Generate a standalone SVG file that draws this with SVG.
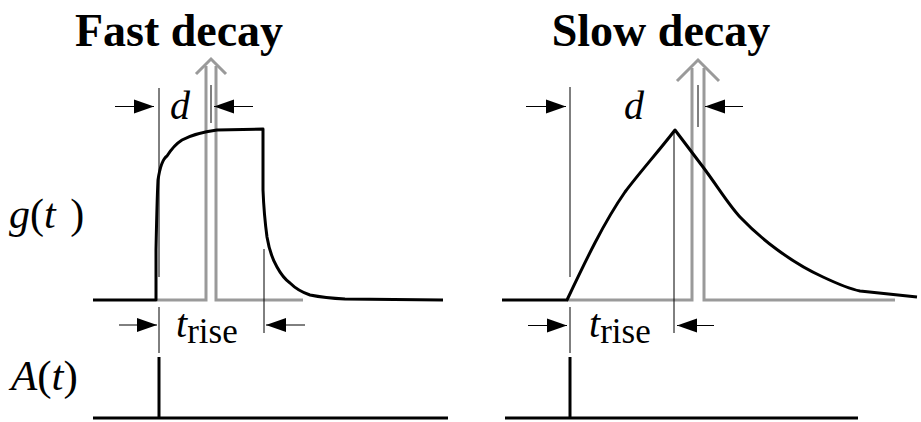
<svg xmlns="http://www.w3.org/2000/svg" width="921" height="422" viewBox="0 0 921 422">
<style>
.thick{fill:none;stroke:#000;stroke-width:3;stroke-linejoin:round}
.thin{fill:none;stroke:#000;stroke-width:1}
.gray{fill:none;stroke:#9a9a9a;stroke-width:3;stroke-linejoin:miter}
.dim{fill:none;stroke:#000;stroke-width:1}
</style>
<defs>
<marker id="ah" markerWidth="20" markerHeight="16" refX="20" refY="8" orient="auto" markerUnits="userSpaceOnUse">
<path d="M0,1 L20,8 L0,15 Z" fill="#000"/>
</marker>
</defs>
<rect width="921" height="422" fill="#fff"/>

<g id="fast-panel">
<text x="179" y="46" text-anchor="middle" font-family="Liberation Serif" font-weight="bold" font-size="46">Fast decay</text>
<g id="fast-gray-arrow">
<path class="gray" d="M157,300 H206 V66 M216,66 V300 H303"/>
<path class="gray" d="M196,74 L211,59 L226,74"/>
</g>
<g id="fast-curve">
<path class="thick" d="M93,300 H156 L156,250 Q157,200 158,180 Q161,160 167,156 Q174,145 182,140 Q195,133 217,130 L263,129 L263,190 Q264,215 267,237 Q270,255 277,267 Q283,278 290,283 Q298,291 310,295 Q325,298 345,299 L443,300"/>
</g>
<g id="fast-markers">
<line class="thin" x1="159" y1="88" x2="159" y2="277"/>
<line class="thin" x1="211" y1="85" x2="211" y2="123"/>
<line class="thin" x1="264" y1="249" x2="264" y2="333"/>
<line class="thin" x1="159" y1="307" x2="159" y2="353"/>
</g>
<g id="fast-d">
<line class="dim" x1="115" y1="106.5" x2="154" y2="106.5" marker-end="url(#ah)"/>
<line class="dim" x1="253" y1="106.5" x2="214" y2="106.5" marker-end="url(#ah)"/>
<text x="170" y="119" font-family="Liberation Serif" font-style="italic" font-size="40">d</text>
</g>
<g id="fast-trise">
<line class="dim" x1="119" y1="325" x2="157" y2="325" marker-end="url(#ah)"/>
<line class="dim" x1="305" y1="325" x2="266" y2="325" marker-end="url(#ah)"/>
<text x="176" y="337" font-family="Liberation Serif" font-size="40"><tspan font-style="italic">t</tspan><tspan font-size="35" dy="6">rise</tspan></text>
</g>
<g id="fast-impulse">
<line class="thick" x1="159" y1="357" x2="159" y2="418"/>
<line class="thick" x1="93" y1="418" x2="448" y2="418"/>
</g>
</g>

<g id="slow-panel">
<text x="661" y="46" text-anchor="middle" font-family="Liberation Serif" font-weight="bold" font-size="46">Slow decay</text>
<g id="slow-gray-arrow">
<path class="gray" d="M567,300 H692 V68 M704,68 V300 H895"/>
<path class="gray" d="M677,81 L698,60 L719,81"/>
</g>
<g id="slow-curve">
<path class="thick" d="M502,300 H567 C585,262 604,222 625,192 C640,172 658,152 675,130 L703,167 C718,187 728,204 740,217 C760,238 790,262 823,277 C840,285 850,289 860,291 L917,297"/>
</g>
<g id="slow-markers">
<line class="thin" x1="570" y1="87" x2="570" y2="277"/>
<line class="thin" x1="698" y1="85" x2="698" y2="127"/>
<line class="thin" x1="674" y1="130" x2="674" y2="333"/>
<line class="thin" x1="570" y1="307" x2="570" y2="353"/>
</g>
<g id="slow-d">
<line class="dim" x1="526" y1="106.5" x2="566" y2="106.5" marker-end="url(#ah)"/>
<line class="dim" x1="743" y1="106.5" x2="705" y2="106.5" marker-end="url(#ah)"/>
<text x="624" y="119" font-family="Liberation Serif" font-style="italic" font-size="40">d</text>
</g>
<g id="slow-trise">
<line class="dim" x1="528" y1="325.5" x2="567" y2="325.5" marker-end="url(#ah)"/>
<line class="dim" x1="714" y1="325.5" x2="677" y2="325.5" marker-end="url(#ah)"/>
<text x="589" y="337" font-family="Liberation Serif" font-size="40"><tspan font-style="italic">t</tspan><tspan font-size="35" dy="6">rise</tspan></text>
</g>
<g id="slow-impulse">
<line class="thick" x1="570" y1="357" x2="570" y2="418"/>
<line class="thick" x1="505" y1="418" x2="858" y2="418"/>
</g>
</g>

<g id="axis-labels">
<text x="9" y="228" font-family="Liberation Serif" font-size="42"><tspan font-style="italic">g</tspan>(<tspan font-style="italic">t</tspan><tspan dx="4"> )</tspan></text>
<text x="11" y="390" font-family="Liberation Serif" font-size="43"><tspan font-style="italic">A</tspan>(<tspan font-style="italic">t</tspan>)</text>
</g>
<g id="connectors"></g>
</svg>
